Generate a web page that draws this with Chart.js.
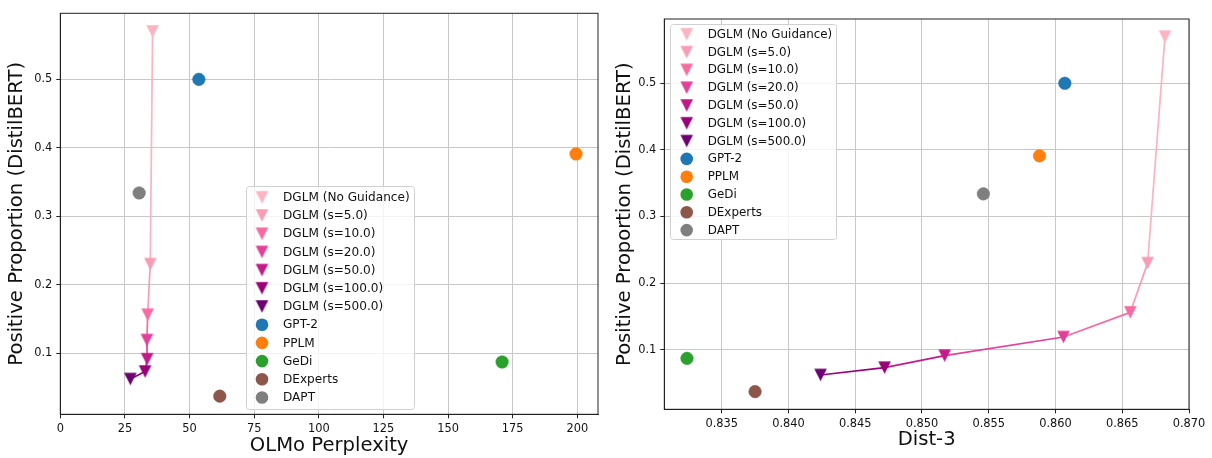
<!DOCTYPE html>
<html>
<head>
<meta charset="utf-8">
<script src="https://cdn.jsdelivr.net/npm/chart.js@4.4.1/dist/chart.umd.min.js"></script>
<style>
html, body { margin: 0; padding: 0; background: #fff; }
#wrap { position: relative; width: 1212px; height: 458px; }
.panel { position: absolute; top: 0; width: 606px; height: 458px; }
</style>
</head>
<body>
<div id="wrap">
  <div class="panel" style="left:0"><canvas id="perplexityChart" width="606" height="458"></canvas></div>
  <div class="panel" style="left:606px"><canvas id="dist3Chart" width="606" height="458"></canvas></div>
</div>
<script>
// DGLM 各引导强度
const dglmLabels = ['DGLM (No Guidance)', 'DGLM (s=5.0)', 'DGLM (s=10.0)', 'DGLM (s=20.0)',
                    'DGLM (s=50.0)', 'DGLM (s=100.0)', 'DGLM (s=500.0)'];
const dglmColors = ['#fbb4c0', '#f99db6', '#f76aa2', '#e3409a', '#c31a8a', '#990179', '#6d0072'];
const dglmPerplexity = [35.7, 34.8, 33.8, 33.5, 33.6, 32.8, 27.1];
const dglmDist3 = [0.8682, 0.8669, 0.8656, 0.8606, 0.8517, 0.8472, 0.8424];
const dglmPositive = [0.570, 0.230, 0.156, 0.119, 0.091, 0.073, 0.062];

// 基线模型
const baselineLabels = ['GPT-2', 'PPLM', 'GeDi', 'DExperts', 'DAPT'];
const baselineColors = ['#1f77b4', '#ff7f0e', '#2ca02c', '#8c564b', '#7f7f7f'];
const baselinePerplexity = [53.6, 199.5, 170.9, 61.7, 30.5];
const baselineDist3 = [0.8607, 0.8588, 0.8324, 0.8375, 0.8546];
const baselinePositive = [0.500, 0.391, 0.087, 0.037, 0.334];

// 刻度
const perplexityTicks = [0, 25, 50, 75, 100, 125, 150, 175, 200];
const dist3Ticks = [0.835, 0.840, 0.845, 0.850, 0.855, 0.860, 0.865, 0.870];
const positiveTicks = [0.1, 0.2, 0.3, 0.4, 0.5];

Chart.defaults.font.family = "'DejaVu Sans', sans-serif";
Chart.defaults.color = '#111';

// matplotlib 风格的倒三角
function makeTriangle(color) {
    const c = document.createElement('canvas');
    c.width = 15;
    c.height = 15;
    const g = c.getContext('2d');
    const h = 6.3, cx = 7.5, cy = 7.5;
    g.beginPath();
    g.moveTo(cx - h, cy - h);
    g.lineTo(cx + h, cy - h);
    g.lineTo(cx, cy + h);
    g.closePath();
    g.fillStyle = color;
    g.fill();
    return c;
}
const triangleImages = dglmColors.map(makeTriangle);

function buildDatasets(dglmX, baseX) {
    const sets = [];
    dglmLabels.forEach(function(label, i) {
        sets.push({
            label: label,
            data: [{ x: dglmX[i], y: dglmPositive[i] }],
            pointStyle: triangleImages[i],
            pointRadius: 7,
            backgroundColor: dglmColors[i],
            borderColor: dglmColors[i],
            markerColor: dglmColors[i]
        });
    });
    baselineLabels.forEach(function(label, i) {
        sets.push({
            label: label,
            data: [{ x: baseX[i], y: baselinePositive[i] }],
            pointStyle: 'circle',
            pointRadius: 6.3,
            borderWidth: 0.5,
            backgroundColor: baselineColors[i],
            borderColor: baselineColors[i],
            markerColor: baselineColors[i]
        });
    });
    // 连线，每段使用起点颜色
    sets.push({
        label: '',
        hideInLegend: true,
        data: dglmX.map(function(x, i) { return { x: x, y: dglmPositive[i] }; }),
        showLine: true,
        pointRadius: 0,
        borderWidth: 1.7,
        borderColor: dglmColors[0],
        segment: {
            borderColor: function(ctx) { return dglmColors[ctx.p0DataIndex]; }
        }
    });
    return sets;
}

// 边框 + 图内图例
const insideLegend = {
    id: 'insideLegend',
    afterDraw(chart, args, opts) {
        const ctx = chart.ctx;
        const a = chart.chartArea;
        ctx.save();
        ctx.strokeStyle = '#222';
        ctx.lineWidth = 1;
        ctx.strokeRect(a.left, a.top, a.right - a.left, a.bottom - a.top);

        const r = 3;
        ctx.beginPath();
        ctx.roundRect(opts.x + 0.5, opts.y + 0.5, opts.w, opts.h, r);
        ctx.fillStyle = 'rgba(255,255,255,0.8)';
        ctx.fill();
        ctx.strokeStyle = '#d0d0d0';
        ctx.stroke();

        ctx.font = opts.fontSize + "px 'DejaVu Sans'";
        ctx.textBaseline = 'middle';
        ctx.textAlign = 'left';
        ctx.fillStyle = '#111';
        let row = 0;
        chart.data.datasets.forEach(function(ds) {
            if (ds.hideInLegend) return;
            const y = opts.firstRow + row * opts.rowH;
            if (typeof ds.pointStyle === 'object') {
                ctx.drawImage(ds.pointStyle, opts.markerX - 7.5, y - 7.5);
            } else {
                ctx.beginPath();
                ctx.arc(opts.markerX, y, 6.3, 0, Math.PI * 2);
                ctx.fillStyle = ds.markerColor;
                ctx.fill();
            }
            ctx.fillStyle = '#111';
            ctx.fillText(ds.label, opts.textX, y + 0.5);
            row++;
        });
        ctx.restore();
    }
};

function buildScales(c) {
    return {
        x: {
            type: 'linear',
            min: c.xMin,
            max: c.xMax,
            afterBuildTicks: function(s) { s.ticks = c.xTicks.map(function(v) { return { value: v }; }); },
            afterFit: function(s) { s.height = c.xHeight; },
            ticks: {
                autoSkip: false,
                maxRotation: 0,
                padding: 4,
                font: { size: 11.4 },
                color: '#111',
                callback: function(v) { return c.xFormat(v); }
            },
            grid: { color: '#c8c8c8', lineWidth: 1, tickLength: 4, tickColor: '#222' },
            border: { display: true, color: '#222', width: 1 },
            title: {
                display: true,
                text: c.xTitle,
                font: { size: 19.6 },
                color: '#111',
                padding: { top: 0, bottom: c.xTitlePad }
            }
        },
        y: {
            type: 'linear',
            min: 0.0105,
            max: 0.5965,
            afterBuildTicks: function(s) { s.ticks = positiveTicks.map(function(v) { return { value: v }; }); },
            afterFit: function(s) { s.width = c.yWidth; },
            ticks: {
                padding: 4,
                font: { size: 11.4 },
                color: '#111',
                callback: function(v) { return v.toFixed(1); }
            },
            grid: { color: '#c8c8c8', lineWidth: 1, tickLength: 4, tickColor: '#222' },
            border: { display: true, color: '#222', width: 1 },
            title: {
                display: true,
                text: 'Positive Proportion (DistilBERT)',
                font: { size: 19.6 },
                color: '#111',
                padding: { top: c.yTitlePad, bottom: 0 }
            }
        }
    };
}

function makeChart(id, c) {
    return new Chart(document.getElementById(id), {
        type: 'scatter',
        data: { datasets: buildDatasets(c.dglmX, c.baseX) },
        options: {
            responsive: false,
            animation: false,
            events: [],
            layout: { padding: c.padding },
            scales: buildScales(c),
            plugins: {
                legend: { display: false },
                tooltip: { enabled: false },
                insideLegend: c.legend
            }
        },
        plugins: [insideLegend]
    });
}

makeChart('perplexityChart', {
    dglmX: dglmPerplexity,
    baseX: baselinePerplexity,
    xMin: 0, xMax: 208,
    xTicks: perplexityTicks,
    xFormat: function(v) { return String(v); },
    xTitle: 'OLMo Perplexity',
    xHeight: 43.7, yWidth: 60.3,
    xTitlePad: 0, yTitlePad: 4.8,
    padding: { left: 0, right: 5.7, top: 13.3, bottom: 0 },
    legend: { x: 246, y: 186, w: 168, h: 223, firstRow: 197.3, rowH: 18.2, markerX: 262, textX: 283, fontSize: 12.1 }
});

makeChart('dist3Chart', {
    dglmX: dglmDist3,
    baseX: baselineDist3,
    xMin: 0.8307, xMax: 0.8700,
    xTicks: dist3Ticks,
    xFormat: function(v) { return v.toFixed(3); },
    xTitle: 'Dist-3',
    xHeight: 48.7, yWidth: 58.3,
    xTitlePad: 6.6, yTitlePad: 7.6,
    padding: { left: 0, right: 23, top: 19, bottom: 0 },
    legend: { x: 64, y: 24, w: 166, h: 215, firstRow: 34.3, rowH: 17.8, markerX: 80.7, textX: 101.7, fontSize: 11.9 }
});
</script>
</body>
</html>
